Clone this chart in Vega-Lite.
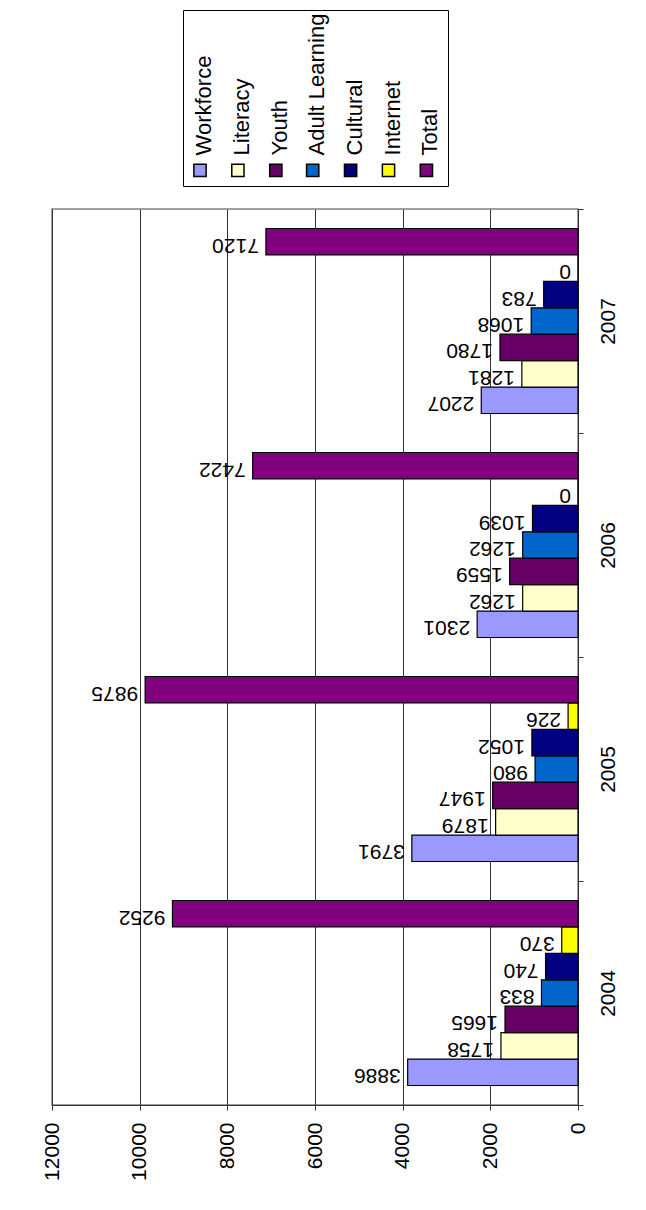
{
  "$schema": "https://vega.github.io/schema/vega-lite/v6.json",
  "width": 526,
  "height": 896,
  "autosize": {"type": "none"},
  "padding": {"left": 52, "top": 209, "right": 68, "bottom": 105},
  "background": "white",
  "config": {
    "font": "Liberation Sans",
    "view": {"stroke": "#808080", "strokeWidth": 1.5}
  },
  "data": {
    "values": [
      {"year": "2004", "series": "Workforce", "value": 3886},
      {"year": "2004", "series": "Literacy", "value": 1758},
      {"year": "2004", "series": "Youth", "value": 1665},
      {"year": "2004", "series": "Adult Learning", "value": 833},
      {"year": "2004", "series": "Cultural", "value": 740},
      {"year": "2004", "series": "Internet", "value": 370},
      {"year": "2004", "series": "Total", "value": 9252},
      {"year": "2005", "series": "Workforce", "value": 3791},
      {"year": "2005", "series": "Literacy", "value": 1879},
      {"year": "2005", "series": "Youth", "value": 1947},
      {"year": "2005", "series": "Adult Learning", "value": 980},
      {"year": "2005", "series": "Cultural", "value": 1052},
      {"year": "2005", "series": "Internet", "value": 226},
      {"year": "2005", "series": "Total", "value": 9875},
      {"year": "2006", "series": "Workforce", "value": 2301},
      {"year": "2006", "series": "Literacy", "value": 1262},
      {"year": "2006", "series": "Youth", "value": 1559},
      {"year": "2006", "series": "Adult Learning", "value": 1262},
      {"year": "2006", "series": "Cultural", "value": 1039},
      {"year": "2006", "series": "Internet", "value": 0},
      {"year": "2006", "series": "Total", "value": 7422},
      {"year": "2007", "series": "Workforce", "value": 2207},
      {"year": "2007", "series": "Literacy", "value": 1281},
      {"year": "2007", "series": "Youth", "value": 1780},
      {"year": "2007", "series": "Adult Learning", "value": 1068},
      {"year": "2007", "series": "Cultural", "value": 783},
      {"year": "2007", "series": "Internet", "value": 0},
      {"year": "2007", "series": "Total", "value": 7120}
    ]
  },
  "encoding": {
    "y": {
      "field": "year",
      "type": "ordinal",
      "sort": "descending",
      "scale": {"paddingInner": 0, "paddingOuter": 0},
      "axis": {
        "orient": "right",
        "title": null,
        "labelAngle": -90,
        "labelFontSize": 21,
        "labelAlign": "center",
        "labelBaseline": "top",
        "labelPadding": 14,
        "labelColor": "black",
        "tickBand": "extent",
        "tickSize": 5,
        "tickColor": "#333",
        "domainColor": "#333",
        "grid": false
      }
    },
    "yOffset": {
      "field": "series",
      "type": "nominal",
      "sort": ["Total", "Internet", "Cultural", "Adult Learning", "Youth", "Literacy", "Workforce"],
      "scale": {"paddingInner": 0, "paddingOuter": 0.738}
    },
    "x": {
      "field": "value",
      "type": "quantitative",
      "scale": {"domain": [0, 12000], "reverse": true, "nice": false},
      "axis": {
        "title": null,
        "values": [0, 2000, 4000, 6000, 8000, 10000, 12000],
        "format": "d",
        "labelAngle": -90,
        "labelAlign": "right",
        "labelBaseline": "middle",
        "labelFontSize": 21,
        "labelColor": "black",
        "labelPadding": 12,
        "labelFlush": false,
        "labelOverlap": false,
        "tickSize": 5,
        "tickColor": "#333",
        "domainColor": "#333",
        "grid": true,
        "gridColor": "#333",
        "gridWidth": 1
      }
    }
  },
  "layer": [
    {
      "mark": {"type": "bar", "stroke": "black", "strokeWidth": 1.2},
      "encoding": {
        "color": {
          "field": "series",
          "type": "nominal",
          "scale": {
            "domain": ["Workforce", "Literacy", "Youth", "Adult Learning", "Cultural", "Internet", "Total"],
            "range": ["#9999FF", "#FFFFCC", "#660066", "#0066CC", "#000080", "#FFFF00", "#800080"]
          },
          "legend": {
            "orient": "none",
            "legendX": 131,
            "legendY": -199,
            "direction": "horizontal",
            "columns": 7,
            "title": " ",
            "titleFontSize": 10,
            "titleOrient": "top",
            "titlePadding": 133,
            "symbolType": "square",
            "symbolSize": 150,
            "symbolStrokeColor": "black",
            "symbolStrokeWidth": 1.5,
            "labelFontSize": 22,
            "labelColor": "black",
            "labelLimit": 400,
            "labelOffset": -7,
            "columnPadding": 10.9,
            "padding": 6,
            "strokeColor": "black",
            "fillColor": "white",
            "encode": {
              "labels": {
                "update": {
                  "angle": {"value": -90},
                  "dx": {"value": 15},
                  "align": {"value": "left"},
                  "baseline": {"value": "middle"}
                }
              }
            }
          }
        }
      }
    },
    {
      "mark": {"type": "text", "angle": 180, "align": "left", "baseline": "middle", "dx": 7, "dy": -3, "fontSize": 21, "color": "black"},
      "encoding": {
        "text": {"field": "value", "type": "quantitative"}
      }
    }
  ]
}
